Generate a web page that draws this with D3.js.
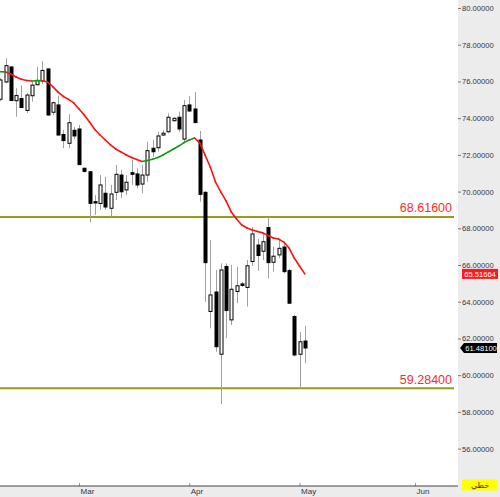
<!DOCTYPE html>
<html>
<head>
<meta charset="utf-8">
<script src="https://cdn.jsdelivr.net/npm/d3@7"></script>
<style>
  html, body { margin: 0; padding: 0; background: #fff; }
  svg { display: block; font-family: "Liberation Sans", Arial, sans-serif; }
</style>
</head>
<body>
<div id="chart"></div>
<script>
// candles, one per trading day (index 0 = first visible bar)
var opens  = [75.03, 75.97, 76.79, 74.95, 75.07, 74.42, 75.22, 75.82, 76.03, 76.68,
              74.32, 74.72, 73.11, 72.63, 73.34, 73.41, 71.27, 71.08, 69.45, 69.35,
              69.91, 69.09, 69.96, 70.90, 70.09, 71.03, 70.96, 70.41, 70.90, 72.36,
              72.39, 73.08, 73.26, 73.86, 74.05, 72.86, 74.72, 74.50, 72.81, 69.96,
              63.47, 64.53, 61.14, 65.92, 63.01, 64.56, 64.97, 64.78, 66.19, 67.09,
              66.75, 68.04, 66.15, 66.55, 66.98, 65.70, 63.19, 61.14, 61.86];
var highs  = [76.19, 77.26, 76.84, 75.63, 75.78, 75.37, 75.99, 76.80, 77.10, 76.73,
              74.90, 75.23, 73.36, 74.21, 73.52, 73.63, 71.31, 71.12, 69.81, 70.90,
              70.80, 70.36, 71.45, 71.18, 70.90, 71.72, 71.27, 71.45, 72.72, 72.81,
              73.26, 73.36, 74.26, 74.05, 74.35, 74.99, 75.21, 75.42, 73.30, 70.03,
              67.36, 65.73, 66.09, 66.09, 66.00, 65.91, 65.08, 66.27, 68.07, 67.42,
              67.75, 68.616, 67.00, 67.36, 67.20, 65.81, 63.28, 62.35, 62.68];
var lows   = [74.93, 75.90, 74.93, 74.08, 74.54, 74.28, 74.90, 75.78, 75.86, 74.14,
              74.17, 73.06, 72.36, 72.36, 72.86, 71.45, 71.04, 68.32, 68.73, 69.00,
              69.00, 68.63, 69.54, 69.65, 69.81, 70.36, 70.18, 69.91, 70.54, 71.90,
              72.17, 73.03, 73.18, 73.81, 73.26, 72.63, 74.34, 73.71, 69.45, 64.00,
              62.55, 61.28, 58.43, 62.01, 62.73, 63.92, 64.80, 63.74, 65.95, 65.68,
              66.27, 65.28, 65.64, 66.37, 65.55, 63.88, 61.01, 59.284, 60.65];
var closes = [76.08, 76.86, 74.96, 75.23, 74.58, 75.26, 75.80, 76.06, 76.60, 74.17,
              74.84, 73.08, 72.78, 73.75, 73.03, 71.47, 71.10, 69.36, 69.38, 70.36,
              69.16, 69.87, 70.94, 69.99, 70.51, 70.94, 70.36, 70.90, 72.23, 72.17,
              73.03, 73.18, 74.05, 73.99, 73.41, 74.68, 74.39, 73.76, 69.85, 66.13,
              64.37, 61.55, 65.73, 63.52, 64.68, 64.87, 64.89, 65.96, 67.69, 66.52,
              67.27, 66.13, 66.48, 66.91, 65.64, 63.92, 61.10, 61.82, 61.481];

// moving average, one value per candle
var maValues = [76.53, 76.52, 76.41, 76.24, 76.12, 76.05, 76.02, 76.04, 76.04, 75.97,
                75.72, 75.42, 75.18, 75.02, 74.83, 74.50, 74.17, 73.79, 73.38, 73.08,
                72.81, 72.54, 72.32, 72.16, 71.99, 71.86, 71.75, 71.64, 71.69, 71.76,
                71.86, 71.99, 72.16, 72.32, 72.48, 72.67, 72.81, 72.92, 72.65, 71.99,
                71.34, 70.52, 69.98, 69.49, 68.89, 68.51, 68.18, 68.02, 67.91, 67.83,
                67.75, 67.61, 67.47, 67.42, 67.25, 66.93, 66.38, 65.95, 65.51664];

// horizontal levels
var levels = [68.616, 59.284];

// axes
var yTicks = [56, 58, 60, 62, 64, 66, 68, 70, 72, 74, 76, 78, 80];
var monthLabels = ["Mar", "Apr", "May", "Jun"];
var monthIndex = [15, 36, 57, 79];

var lastMa = 65.51664;
var lastClose = 61.481;
var modeLabel = "خطي";

var W = 500, H = 497;
var plotRight = 458, axisY = 486;

var svg = d3.select("#chart").append("svg")
    .attr("width", W)
    .attr("height", H);

var x = d3.scaleLinear().domain([0, 79]).range([0.3, 415]);
var y = d3.scaleLinear().domain([56, 80]).range([448.6, 8]);

// axis panels
svg.append("rect").attr("x", plotRight).attr("y", 0)
    .attr("width", W - plotRight).attr("height", H).attr("fill", "#ececec");
svg.append("rect").attr("x", 0).attr("y", axisY)
    .attr("width", W).attr("height", H - axisY).attr("fill", "#ececec");

var candles = opens.map(function(o, i) {
    return { i: i, open: o, high: highs[i], low: lows[i], close: closes[i], ma: maValues[i] };
});

// level lines
levels.forEach(function(lv) {
    svg.append("line")
        .attr("x1", 0).attr("x2", 454)
        .attr("y1", y(lv)).attr("y2", y(lv))
        .attr("stroke", "#9b9b1b")
        .attr("stroke-width", 2);
    svg.append("text")
        .attr("x", 452)
        .attr("y", y(lv) - 4.5)
        .attr("text-anchor", "end")
        .attr("fill", "#ff2a2a")
        .style("font-size", "12.5px")
        .text(lv.toFixed(5));
});

// wicks
svg.selectAll(".wick")
    .data(candles)
    .join("line")
    .attr("class", "wick")
    .attr("x1", d => Math.round(x(d.i)) + 0.5)
    .attr("x2", d => Math.round(x(d.i)) + 0.5)
    .attr("y1", d => y(d.high))
    .attr("y2", d => y(d.low))
    .attr("stroke", "#a0a0a0")
    .attr("stroke-width", 1);

// bodies
svg.selectAll(".body")
    .data(candles)
    .join("rect")
    .attr("class", "body")
    .attr("x", d => Math.round(x(d.i)) - 1)
    .attr("y", d => y(Math.max(d.open, d.close)))
    .attr("width", 3)
    .attr("height", d => Math.max(1, Math.abs(y(d.open) - y(d.close))))
    .attr("fill", d => d.close >= d.open ? "#fff" : "#000")
    .attr("stroke", "#000")
    .attr("stroke-width", 1);

// moving average, green while price closes above it
var maLine = d3.line().x(d => x(d.i)).y(d => y(d.ma)).curve(d3.curveMonotoneX);
for (var k = 1; k < candles.length; k++) {
    var seg = [candles[k - 1], candles[k]];
    svg.append("path")
        .attr("d", maLine(seg))
        .attr("fill", "none")
        .attr("stroke", candles[k].close > candles[k].ma ? "#109a10" : "#ff1010")
        .attr("stroke-width", 1.6)
        .attr("stroke-linecap", "round");
}

// right price axis
var yAxis = svg.append("g")
    .attr("transform", `translate(${plotRight},0)`)
    .call(d3.axisRight(y).tickValues(yTicks).tickSize(3).tickPadding(1)
        .tickFormat(d3.format(".5f")));
yAxis.select(".domain").remove();
yAxis.selectAll("line").attr("stroke", "#777");
yAxis.selectAll("text")
    .attr("fill", "#333344")
    .style("font-size", "7.6px")
    .style("font-family", "'Liberation Sans', Arial, sans-serif");

// bottom time axis
var xAxis = svg.append("g")
    .attr("transform", `translate(0,${axisY})`)
    .call(d3.axisBottom(x).tickValues(monthIndex).tickSize(-3).tickPadding(2)
        .tickFormat((d, i) => monthLabels[i]));
xAxis.select(".domain").remove();
xAxis.selectAll("line").attr("stroke", "#999");
xAxis.selectAll("text")
    .attr("text-anchor", "start")
    .attr("x", 1)
    .attr("fill", "#333344")
    .style("font-size", "8px")
    .style("font-family", "'Liberation Sans', Arial, sans-serif");
svg.append("line")
    .attr("x1", 0).attr("x2", plotRight)
    .attr("y1", axisY).attr("y2", axisY)
    .attr("stroke", "#444")
    .attr("stroke-width", 1.2);

// last MA tag
var maY = y(lastMa);
svg.append("rect")
    .attr("x", 462).attr("y", maY - 5)
    .attr("width", 36).attr("height", 10)
    .attr("fill", "#ff1a1a");
svg.append("text")
    .attr("x", 480).attr("y", maY + 3)
    .attr("text-anchor", "middle")
    .attr("fill", "#fff")
    .style("font-size", "7.6px")
    .text(lastMa.toFixed(5));

// last price tag
var cY = y(lastClose);
svg.append("path")
    .attr("d", `M460,${cY} L464,${cY - 5} L497,${cY - 5} L497,${cY + 5} L464,${cY + 5} Z`)
    .attr("fill", "#000");
svg.append("text")
    .attr("x", 481).attr("y", cY + 3)
    .attr("text-anchor", "middle")
    .attr("fill", "#fff")
    .style("font-size", "7.6px")
    .text(lastClose.toFixed(5));

// chart mode badge
svg.append("rect")
    .attr("x", 462).attr("y", 479.5)
    .attr("width", 35.5).attr("height", 11)
    .attr("fill", "#ffff00");
svg.append("text")
    .attr("x", 480).attr("y", 488)
    .attr("text-anchor", "middle")
    .attr("fill", "#333")
    .style("font-size", "8px")
    .style("font-family", "'DejaVu Sans', sans-serif")
    .text(modeLabel);
</script>
</body>
</html>
